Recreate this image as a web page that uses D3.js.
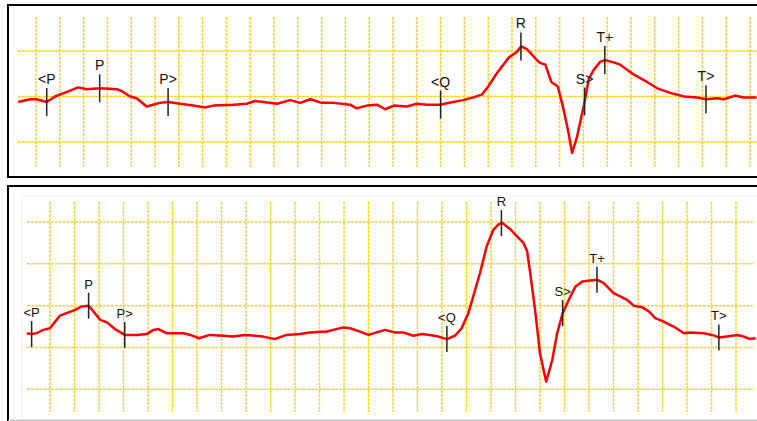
<!DOCTYPE html>
<html>
<head>
<meta charset="utf-8">
<script src="https://cdn.jsdelivr.net/npm/d3@7"></script>
<style>
  body { margin: 0; background: #fff; }
  svg { display: block; }
  .grid line { stroke: #fcd232; stroke-width: 1.5; stroke-dasharray: 3 1; }
  .trace { fill: none; stroke: #ff0000; stroke-width: 2.5; stroke-linejoin: round; }
  .mark { stroke: #222; stroke-width: 1.5; }
  .lbl { font-family: "Liberation Sans", Arial, sans-serif; fill: #111; text-anchor: middle; }
</style>
</head>
<body>
<div id="chart"></div>
<script>
// ECG beat, two leads. time in ms (40 ms per box), amplitude in mV (0.5 mV per box)

const topTime = [-30, -10, 0, 18, 32, 52, 71, 85, 108, 136, 144, 158, 169, 186, 197, 208, 222, 242, 264, 284,
  298, 332, 354, 368, 382, 405, 427, 444, 461, 480, 500, 528, 539, 556, 573, 587, 601, 623, 640, 657,
  679, 701, 718, 735, 749, 760, 776, 795, 808, 815, 825, 839, 847, 856, 866, 877, 887, 895, 901, 909,
  921, 929, 937, 948, 956, 973, 982, 1005, 1027, 1044, 1066, 1089, 1111, 1126, 1145, 1156, 1175, 1189, 1211];
const topMv = [-0.06, -0.03, -0.03, -0.06, 0.00, 0.05, 0.10, 0.08, 0.09, 0.08, 0.06, 0.00, -0.02, -0.11, -0.09, -0.07, -0.06, -0.08, -0.10, -0.12,
  -0.10, -0.09, -0.08, -0.05, -0.06, -0.08, -0.04, -0.07, -0.03, -0.07, -0.07, -0.09, -0.13, -0.10, -0.09, -0.14, -0.10, -0.11, -0.08, -0.09,
  -0.09, -0.06, -0.04, -0.01, 0.02, 0.11, 0.27, 0.43, 0.49, 0.55, 0.52, 0.42, 0.37, 0.35, 0.16, 0.11, -0.15, -0.40, -0.62, -0.45,
  -0.09, 0.19, 0.29, 0.38, 0.40, 0.37, 0.35, 0.24, 0.16, 0.09, 0.04, 0.00, -0.01, -0.03, -0.02, -0.03, 0.01, -0.01, -0.01];

const botTime = [-38, -30, -22, -11, 0, 16, 27, 41, 52, 63, 71, 82, 93, 106, 122, 142, 158, 169, 177, 191,
  218, 229, 243, 261, 283, 299, 318, 335, 348, 367, 386, 408, 424, 452, 479, 490, 506, 520, 533, 547,
  563, 577, 593, 607, 620, 634, 648, 661, 672, 683, 691, 702, 713, 724, 732, 738, 752, 762, 773, 779,
  784, 792, 800, 810, 820, 828, 837, 847, 858, 869, 882, 893, 904, 920, 931, 942, 953, 967, 978, 988,
  1002, 1018, 1035, 1045, 1067, 1081, 1092, 1105, 1122, 1133, 1143, 1152];
const botMv = [0.17, 0.16, 0.17, 0.21, 0.23, 0.38, 0.41, 0.45, 0.49, 0.50, 0.43, 0.33, 0.30, 0.22, 0.15, 0.15, 0.16, 0.21, 0.22, 0.17,
  0.17, 0.15, 0.11, 0.15, 0.14, 0.13, 0.15, 0.14, 0.13, 0.10, 0.15, 0.16, 0.18, 0.19, 0.24, 0.23, 0.19, 0.15, 0.18, 0.21,
  0.18, 0.18, 0.14, 0.16, 0.15, 0.13, 0.10, 0.14, 0.23, 0.41, 0.61, 0.89, 1.21, 1.41, 1.47, 1.49, 1.41, 1.33, 1.25, 1.15,
  0.89, 0.45, -0.07, -0.41, -0.15, 0.17, 0.41, 0.57, 0.73, 0.79, 0.80, 0.81, 0.77, 0.65, 0.61, 0.57, 0.50, 0.48, 0.43, 0.35,
  0.31, 0.25, 0.17, 0.18, 0.17, 0.15, 0.12, 0.13, 0.15, 0.13, 0.10, 0.11];

const markLabels = ["<P", "P", "P>", "<Q", "R", "S>", "T+", "T>"];
const topMarkTime = [18, 107, 222, 680, 815, 922, 956, 1126];
const botMarkTime = [-30, 63, 122, 648, 737, 837, 893, 1092];

const topGridMv = [-0.5, 0, 0.5];
const botGridMv = [-0.5, 0, 0.5, 1.0, 1.5];

const WIDTH = 757, HEIGHT = 421;

const svg = d3.select("#chart").append("svg")
    .attr("width", WIDTH)
    .attr("height", HEIGHT);

// panel frames
svg.append("rect").attr("x", 8).attr("y", 5).attr("width", 760).attr("height", 172)
    .attr("fill", "#fff").attr("stroke", "#000").attr("stroke-width", 2);
svg.append("rect").attr("x", 8).attr("y", 186).attr("width", 760).attr("height", 250)
    .attr("fill", "#fff").attr("stroke", "#000").attr("stroke-width", 2);
svg.append("rect").attr("x", 22).attr("y", 196).attr("width", 740).attr("height", 230)
    .attr("fill", "none").attr("stroke", "#f0f0f0").attr("stroke-width", 1);
svg.append("line").attr("x1", 8).attr("x2", WIDTH).attr("y1", 420.5).attr("y2", 420.5)
    .attr("stroke", "#b8b8b8").attr("stroke-width", 1.5);

function panel(cfg) {
  const x = d3.scaleLinear().domain(cfg.tDomain).range(cfg.xRange);
  const y = d3.scaleLinear().domain(cfg.vDomain).range(cfg.yRange);
  const g = svg.append("g");

  const grid = g.append("g").attr("class", "grid");
  grid.selectAll("line.v")
    .data(d3.range(cfg.tDomain[0], cfg.tDomain[1] + 1, 40))
    .enter().append("line")
      .attr("class", "v")
      .attr("x1", d => x(d)).attr("x2", d => x(d))
      .attr("y1", cfg.gridY[0]).attr("y2", cfg.gridY[1]);
  grid.selectAll("line.h")
    .data(cfg.gridMv)
    .enter().append("line")
      .attr("class", "h")
      .attr("y1", d => y(d)).attr("y2", d => y(d))
      .attr("x1", cfg.gridX[0]).attr("x2", cfg.gridX[1]);

  const pts = cfg.time.map((t, i) => [t, cfg.mv[i]]);
  g.append("path")
    .datum(pts)
    .attr("class", "trace")
    .attr("d", d3.line().x(d => x(d[0])).y(d => y(d[1])));

  // value of the trace at a given time
  const bis = d3.bisector(d => d[0]).left;
  const at = t => {
    const i = Math.max(1, Math.min(pts.length - 1, bis(pts, t)));
    const a = pts[i - 1], b = pts[i];
    return a[1] + (b[1] - a[1]) * (t - a[0]) / (b[0] - a[0]);
  };

  const marks = g.selectAll("g.mk")
    .data(cfg.markTime)
    .enter().append("g")
      .attr("transform", d => "translate(" + x(d) + "," + y(at(d)) + ")");
  marks.append("line")
    .attr("class", "mark")
    .attr("y1", -cfg.tick / 2).attr("y2", cfg.tick / 2);
  marks.append("text")
    .attr("class", "lbl")
    .attr("y", -cfg.tick / 2 - 4)
    .attr("font-size", cfg.font)
    .text((d, i) => markLabels[i]);
}

panel({
  time: topTime, mv: topMv, markTime: topMarkTime, gridMv: topGridMv,
  tDomain: [0, 1200], xRange: [36, 750],
  vDomain: [-0.5, 0.5], yRange: [142, 51],
  gridY: [17, 167], gridX: [18, WIDTH],
  tick: 28, font: "14px"
});

panel({
  time: botTime, mv: botMv, markTime: botMarkTime, gridMv: botGridMv,
  tDomain: [0, 1120], xRange: [50, 736],
  vDomain: [-0.5, 1.5], yRange: [389.3, 222],
  gridY: [202, 412], gridX: [27, 753],
  tick: 26, font: "13px"
});
</script>
</body>
</html>
